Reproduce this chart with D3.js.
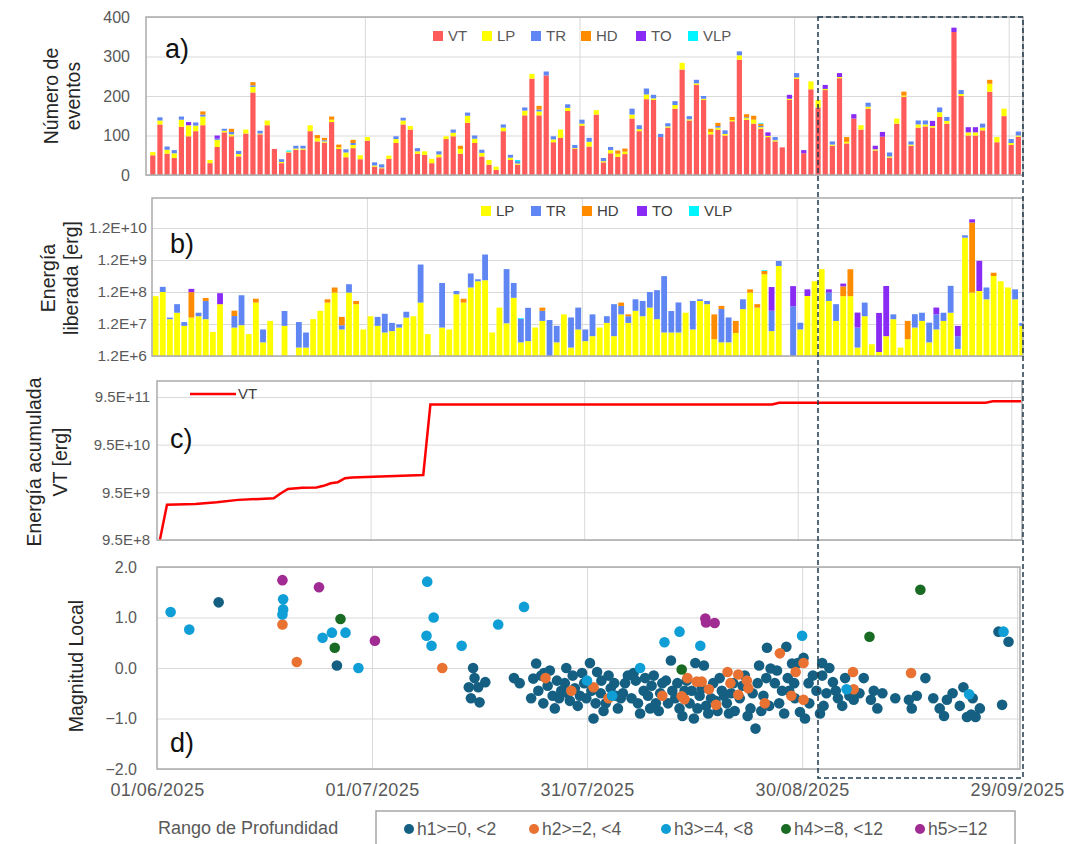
<!DOCTYPE html>
<html>
<head>
<meta charset="utf-8">
<script src="https://cdn.jsdelivr.net/npm/d3@7"></script>
<style>
  body { margin: 0; background: #fff; }
  text { font-family: "Liberation Sans", Arial, sans-serif; }
</style>
</head>
<body>
<svg id="chart" width="1070" height="844"></svg>
<script>
// day index 0 = 01/06/2025 ... 121 = 30/09/2025
var eventTypes = ["VT", "LP", "TR", "HD", "TO", "VLP"];
var typeColors = ["#FF5B5B", "#FFFF00", "#5F86F2", "#FF8C00", "#8A2BF5", "#00F5FF"];

// a) number of events per day
var countVT = [
  50,128,54,43,122,98,111,126,30,71,
  108,98,47,105,209,103,126,66,30,57,
  64,64,111,85,82,134,66,45,68,40,
  87,21,17,41,81,128,115,54,51,30,
  45,91,98,54,132,81,47,26,13,111,
  38,26,151,244,151,252,83,94,162,66,
  125,72,153,32,55,46,53,143,111,192,
  190,96,120,168,267,138,228,190,103,115,
  100,136,292,140,130,117,96,85,70,190,
  243,55,217,171,215,74,245,80,143,115,
  168,62,97,44,130,198,74,120,123,120,
  147,130,362,200,100,100,113,211,83,149,
  76,97];
var countLP = [
  8,10,10,12,18,28,14,22,8,18,
  4,5,6,10,14,2,12,0,3,2,
  3,3,15,8,3,6,4,12,8,10,
  9,3,2,8,10,10,9,6,9,11,
  7,7,9,12,18,11,9,12,8,9,
  6,3,12,12,10,0,7,21,8,2,
  5,12,11,3,8,8,6,10,5,12,
  4,0,3,9,17,3,4,3,6,5,
  4,3,11,4,10,4,3,3,0,3,
  4,0,20,19,3,3,3,4,0,11,
  5,3,0,3,13,3,3,8,5,4,
  12,7,0,5,8,8,7,20,13,19,
  5,3];
var countTR = [
  0,8,8,8,8,0,8,5,0,3,
  5,6,8,0,4,7,0,0,7,0,
  7,7,0,0,3,0,0,8,5,0,
  0,8,8,0,7,7,0,8,0,0,
  8,0,8,0,8,8,8,0,0,8,
  7,6,8,0,5,10,8,0,9,8,
  10,10,0,8,8,0,0,15,10,15,
  9,8,8,10,0,8,9,7,0,4,
  9,0,10,2,0,3,0,8,0,0,
  11,0,0,0,0,8,0,0,0,0,
  10,0,0,10,0,0,8,10,10,0,
  12,10,0,10,0,0,10,0,0,0,
  10,10];
var countHD = [
  0,0,0,0,0,0,0,8,0,0,
  0,8,0,0,8,0,0,0,0,0,
  0,0,0,8,6,8,7,0,8,0,
  0,0,0,0,0,0,0,0,0,0,
  0,0,0,8,0,0,0,0,0,0,
  0,0,0,0,9,0,0,0,0,0,
  0,0,0,0,0,8,8,0,0,0,
  0,0,0,0,0,0,0,0,8,8,
  0,8,0,8,10,6,0,0,0,0,
  0,0,0,0,0,0,0,12,0,0,
  0,0,0,0,0,10,0,0,0,0,
  0,0,0,0,0,0,0,10,0,0,
  0,0];
var countTO = [
  0,0,0,0,0,8,0,0,0,8,
  0,0,0,0,0,0,0,0,0,0,
  0,0,0,0,0,0,0,0,0,0,
  0,0,0,0,0,0,0,0,0,0,
  0,0,0,0,0,0,0,0,0,0,
  0,0,0,0,0,0,0,0,0,0,
  0,0,0,0,0,0,0,0,0,0,
  0,0,0,0,0,0,0,0,0,0,
  0,0,0,0,0,0,9,0,0,10,
  0,8,0,0,10,0,10,0,11,0,
  0,9,12,0,0,0,0,0,0,13,
  0,0,11,0,13,13,0,0,0,0,
  0,0];
var countVLP = [
  0,0,0,0,0,0,0,0,0,0,
  0,0,0,0,0,0,0,0,0,3,
  0,0,0,0,0,0,0,0,0,0,
  0,0,0,0,0,0,0,0,0,0,
  0,0,0,0,0,0,0,0,0,0,
  0,3,0,0,0,0,0,0,0,0,
  0,0,0,0,0,0,0,0,0,0,
  0,0,0,0,0,0,0,0,0,0,
  0,0,0,0,0,2,0,0,0,0,
  0,0,0,0,0,0,0,0,0,0,
  0,0,0,0,0,0,0,0,0,0,
  0,0,0,0,0,0,0,0,0,0,
  0,0];

// b) released energy per day [erg]
var energyLP = [
  8.9e7,1.2e8,1.7e7,2.7e7,1.05e7,1.9e7,2.1e7,1.7e7,6.8e6,5e7,
  0,9.3e6,1.1e7,5.8e6,5.6e7,3.2e6,1.5e7,0,1.05e7,0,
  2.2e6,2.2e6,1.7e7,3.1e7,5.6e7,1.15e8,8.1e6,1.15e8,5e7,8.1e6,
  2.1e7,1.05e7,6.5e6,7.2e6,9.3e6,1.9e7,2.1e7,5.6e7,5.8e6,0,
  9.3e6,8.1e6,1.02e8,5.6e7,1.66e8,2.6e8,2.8e8,6.5e6,3.9e7,1.26e7,
  7.9e7,3.2e6,3.5e6,9.3e6,1.5e7,0,3.2e6,2.4e7,2.2e6,8.1e6,
  3.5e6,5e6,9.3e6,1.3e7,5e6,2.4e7,1.3e7,3.1e7,2.1e7,3.9e7,
  1.7e7,6.5e6,6.5e6,6.5e6,2.7e7,8.1e6,6.3e7,5e7,4e6,3.2e6,
  3.2e6,6.3e6,3.5e7,1.15e8,3.9e7,4.3e8,7.2e6,7.8e8,0,0,
  8.1e6,9e7,2.6e8,6.2e8,6.3e7,1.5e7,8.9e7,8.9e7,2.2e6,2.1e7,
  2.8e6,1.6e6,5e6,1.7e7,2.2e6,4e6,9.3e6,1.5e7,3.2e6,8.1e6,
  1.5e7,2.7e7,2e6,6e9,1.15e8,1.29e8,7.1e7,3.8e8,2.6e8,1.66e8,
  7.1e7,1.05e7];
var energyTR = [
  0,5.4e7,2e6,2.3e7,3.3e6,0,6e6,4.6e7,0,0,
  0,1.2e7,8.4e7,0,0,4.9e6,0,0,2e7,0,
  1.16e7,4.3e6,0,0,0,0,2.9e6,9.5e7,0,0,
  0,9.5e6,1.85e7,5.8e6,2.4e6,1e7,0,8.1e8,0,0,
  2.2e8,0,2.7e7,0,2.9e8,4e7,1.5e9,0,0,6.1e8,
  1.5e8,1.4e7,3.5e7,0,1.6e7,1.6e7,7.3e6,0,1.7e7,3.1e7,
  4.6e6,1.9e7,0,8e6,4.5e7,2e7,8e6,4e7,4.2e7,8.1e7,
  1.2e8,3.7e8,2.4e7,5e7,0,5.5e7,8e6,1.3e7,0,3.2e7,
  1.6e7,0,3.6e7,0,0,0,2.4e7,3.4e8,0,4.3e7,
  5e6,0,0,0,5.2e7,3.5e7,0,0,7.1e6,3.5e7,
  0,0,0,7e6,0,0,1.5e7,1.2e7,1e7,1.6e7,
  1.2e7,1.6e8,3e6,1.1e9,0,0,9.5e7,0,0,0,
  7.4e7,2.5e6];
var energyHD = [
  0,0,0,0,0,1e8,0,1.5e7,0,0,
  0,1e7,0,0,1.8e7,0,0,0,0,0,
  0,0,0,0,1.5e7,5.1e7,9e6,0,1.3e7,0,
  0,0,0,0,0,0,0,0,0,0,
  0,0,0,1.8e7,0,0,0,0,0,0,
  0,0,0,0,8e6,0,0,0,0,0,
  0,0,0,0,0,1.2e7,3e6,0,0,0,
  0,0,0,0,0,0,0,0,2e7,9e6,
  0,8.7e6,0,3e7,1.1e7,1.2e8,0,0,0,0,
  0,0,0,0,0,0,9.1e7,5.3e8,0,0,
  0,0,0,0,0,1.1e7,0,0,0,0,
  0,0,0,0,1.77e10,0,0,1e8,0,0,
  0,0];
var energyTO = [
  0,0,0,0,0,3.1e7,0,0,0,6e7,
  0,0,0,0,0,0,0,0,0,0,
  0,0,0,0,0,0,0,0,0,0,
  0,0,0,0,0,0,0,0,0,0,
  0,0,0,0,0,0,0,0,0,0,
  0,0,0,0,0,0,0,0,0,0,
  0,0,0,0,0,0,0,0,0,0,
  0,0,0,0,0,0,0,0,0,0,
  0,0,0,0,0,0,1.4e8,0,0,1.4e8,
  0,5.5e7,0,0,3e7,0,4e7,0,1.8e7,0,
  0,2.5e7,1.8e8,0,0,0,0,0,0,1.5e7,
  0,0,5.5e6,0,4.6e9,1e9,0,0,0,0,
  0,0];
var energyVLP = [
  0,0,0,0,0,0,0,0,0,0,
  0,0,0,0,0,0,0,0,0,0,
  0,0,0,0,0,0,0,0,0,0,
  0,0,0,0,0,0,0,0,0,0,
  0,0,0,0,0,0,0,0,0,0,
  0,1e6,0,0,0,0,0,0,0,0,
  0,0,0,0,0,0,0,0,0,0,
  0,0,0,0,0,0,0,0,0,0,
  0,0,0,0,0,3e7,0,0,0,0,
  0,0,0,0,0,0,0,0,0,0,
  0,0,0,0,0,0,0,0,0,0,
  0,0,0,0,0,0,0,0,0,0,
  0,0];

// c) cumulative VT energy [erg], [day, value]
var cumVT = [
  [0,9.5e8],[1,5.2e9],[5,5.4e9],[8,5.9e9],[11,6.6e9],[14,6.9e9],[16,7.1e9],
  [17,9.1e9],[18,1.12e10],[20,1.18e10],[22,1.2e10],[23,1.3e10],[24,1.47e10],
  [25,1.55e10],[26,1.88e10],[27,1.94e10],[31,2.05e10],[37,2.2e10],[38,6.6e11],
  [86,6.6e11],[87,7.2e11],[116,7.2e11],[117,7.7e11],[121,7.7e11]];

// d) local magnitude by depth range, [day, ML]
var depthNames = ["h1>=0, <2", "h2>=2, <4", "h3>=4, <8", "h4>=8, <12", "h5>=12"];
var depthColors = ["#156082", "#E97132", "#0F9ED5", "#196B24", "#A02B93"];
var depthH1 = [
  [8.6,1.3],[25.1,0.05],
  [43.5,-0.38],[44.1,0.0],[44.8,-0.38],[45.8,-0.28],[45.0,-0.68],[44.3,-0.2],[43.8,-0.6],
  [49.8,-0.2],[50.6,-0.3],[52.9,0.09],[52.5,-0.21],[53.2,-0.45],[52.2,-0.6],
  [54.0,-0.1],[54.5,-0.35],[55.2,-0.55],[55.8,-0.25],[56.4,-0.45],[57.1,0.0],[57.6,-0.65],
  [58.3,-0.4],[59.0,-0.55],[59.6,-0.3],[60.4,0.1],[60.9,-1.0],[61.4,-0.08],[61.9,-0.5],
  [62.6,-0.7],[63.3,-0.4],[64.0,-0.55],[64.7,-0.6],[65.3,-0.3],
  [66.8,-0.25],[67.4,-0.9],[67.9,-0.45],[68.5,-0.55],[69.0,-0.35],[69.6,-0.7],[70.2,-0.5],
  [71.7,0.15],[71.0,-0.25],[72.3,-0.6],[72.9,-0.8],[73.6,-0.45],[74.3,-0.7],[74.9,-1.0],
  [75.1,0.1],[76.3,0.05],[75.7,-0.55],[76.6,-0.75],[77.3,-0.6],[78.2,-0.85],[78.8,-0.45],
  [79.5,-0.7],[80.1,-0.5],[80.6,-0.85],
  [81.7,-0.35],[82.8,-0.8],[83.5,-1.2],[84.0,0.05],[85.1,0.4],[85.6,-0.01],[84.6,-0.55],
  [86.2,-0.3],[86.8,-0.7],[87.8,0.42],[88.6,0.09],[88.2,-0.45],[89.0,-0.6],[89.7,-0.87],
  [90.2,0.2],[90.4,-1.0],[90.9,-0.3],
  [92.5,-0.9],[92.8,0.1],[92.8,-0.15],[93.4,-0.5],[94.3,-0.28],[95.0,-0.6],[95.6,-0.75],
  [97.2,-0.63],[98.6,-0.2],[99.6,-0.63],[100.5,-0.8],[101.2,-0.5],
  [104.9,-0.63],[105.3,-0.8],[107.2,-0.2],[109.2,-0.8],[110.2,-0.63],[112.5,-0.38],
  [113.0,-0.97],[113.6,-0.92],[114.2,-0.97],[113.8,-0.6],[117.4,0.72],[118.8,0.52],[117.9,-0.73],
  [53.6,-0.15],[53.9,-0.7],[54.8,-0.05],[55.5,-0.8],[56.1,-0.6],[56.9,-0.3],[57.3,-0.5],
  [58.0,-0.15],[58.7,-0.75],[59.3,-0.1],[59.9,-0.6],[60.6,-0.45],[61.2,-0.7],[62.0,-0.25],
  [62.3,-0.85],[63.0,-0.15],[63.8,-0.3],[64.3,-0.8],[65.0,-0.5],[65.7,-0.15],
  [66.2,-0.6],[66.5,-0.1],[67.1,-0.7],[68.1,-0.2],[68.8,-0.8],[69.3,-0.15],[70.0,-0.85],
  [70.5,-0.3],[71.3,-0.7],[71.9,-0.45],[72.6,-0.3],[73.3,-0.95],[73.9,-0.25],[74.6,-0.45],
  [75.4,-0.8],[76.0,-0.4],[76.9,-0.9],[77.6,-0.3],[77.9,-0.65],[78.5,-0.2],[79.1,-0.55],
  [79.8,-0.9],[80.4,-0.3],
  [81.3,-0.6],[82.0,-0.15],[82.4,-0.95],[83.1,-0.5],[83.8,-0.3],[84.3,-0.85],[85.0,-0.2],
  [85.4,-0.75],[86.5,-0.05],[87.2,-0.45],[87.5,-0.9],[88.0,-0.2],[88.9,-0.3],[89.4,0.1],
  [91.0,-0.7],[91.5,-0.15],[92.0,-0.45],[93.0,-0.75],[93.8,0.0],[94.7,-0.45],[96.0,-0.2],
  [96.6,-0.55],[98.0,-0.5],[100.0,-0.45],[103.0,-0.6],[106.0,-0.55],[108.3,-0.6],[111.0,-0.5],
  [112.0,-0.75],[114.8,-0.8],[109.8,-0.95]];
var depthH2 = [
  [17.5,0.86],[19.5,0.12],[39.8,0.0],[54.2,-0.2],[60.9,-0.38],[73.2,-0.56],[73.6,-0.62],
  [75.3,-0.27],[76.0,-0.27],[77.0,-0.42],[78.0,-0.73],[79.6,-0.08],[81.1,-0.13],[81.1,-0.53],
  [82.3,-0.25],[82.5,-0.4],[86.9,0.29],[89.1,-0.08],[90.2,0.1],[90.2,-0.63],[97.1,-0.08],
  [97.2,-0.42],[105.2,-0.1],[57.8,-0.45],[63.0,-0.6],[70.5,-0.55],[74.0,-0.2],[80.0,-0.3],
  [84.8,-0.7],[88.5,-0.55]];
var depthH3 = [
  [1.9,1.11],[4.5,0.76],[17.6,1.36],[17.6,1.16],[17.5,1.06],[23.1,0.6],[24.4,0.7],[26.3,0.7],
  [28.1,0.0],[37.7,1.71],[38.6,1.0],[37.6,0.64],[38.3,0.44],[42.5,0.44],[47.6,0.86],[51.2,1.21],
  [60.0,-0.25],[63.5,-0.55],[67.4,0.0],[70.8,0.51],[72.9,0.72],[75.8,0.44],[90.0,0.64],[96.2,-0.42],
  [113.3,-0.52],[118.1,0.72]];
var depthH4 = [[25.6,0.97],[24.8,0.40],[73.2,-0.03],[99.4,0.62],[106.5,1.55]];
var depthH5 = [[17.5,1.74],[22.6,1.6],[30.4,0.54],[76.5,0.98],[76.6,0.9],[77.8,0.89]];

var dateTicks = [0, 30, 60, 90, 120];
var dateLabels = ["01/06/2025", "01/07/2025", "31/07/2025", "30/08/2025", "29/09/2025"];

var gridColor = "#D9D9D9";
var borderColor = "#ABABAB";
var tickColor = "#595959";

var svg = d3.select("#chart");

function frame(p, x, y, yTicks, fmt, pad, size) {
  var g = svg.append("g");
  g.append("g")
    .attr("transform", `translate(0, ${p.b})`)
    .call(d3.axisBottom(x).tickValues([30, 60, 90, 120]).tickSize(-(p.b - p.t)).tickFormat(""))
    .call(s => s.select(".domain").remove())
    .call(s => s.selectAll("line").attr("stroke", gridColor));
  g.append("g")
    .attr("transform", `translate(${p.l}, 0)`)
    .call(d3.axisLeft(y).tickValues(yTicks).tickSize(-(p.r - p.l)).tickPadding(pad).tickFormat(fmt))
    .call(s => s.select(".domain").remove())
    .call(s => s.selectAll("line").attr("stroke", gridColor))
    .call(s => s.selectAll("text")
      .attr("fill", tickColor)
      .style("font-size", size + "px"));
  return g;
}

function border(p) {
  svg.append("rect")
    .attr("x", p.l).attr("y", p.t)
    .attr("width", p.r - p.l).attr("height", p.b - p.t)
    .attr("fill", "none")
    .attr("stroke", borderColor)
    .attr("stroke-width", 1.5);
}

function yTitle(lines, cx, cy, gap) {
  var t = svg.append("text")
    .attr("transform", `translate(${cx}, ${cy}) rotate(-90)`)
    .attr("text-anchor", "middle")
    .attr("fill", "#262626")
    .style("font-size", "19.5px");
  lines.forEach((s, i) => {
    t.append("tspan").attr("x", 0).attr("dy", i ? gap : 0).text(s);
  });
}

function panelLabel(s, x, y) {
  svg.append("text").attr("x", x).attr("y", y)
    .attr("fill", "#111").style("font-size", "27px").text(s);
}

// ---------- a) ----------
var pa = {l: 146, r: 1023, t: 17, b: 175};
var xA = d3.scaleLinear().domain([-0.6, 122]).range([pa.l, pa.r]);
var yA = d3.scaleLinear().domain([0, 400]).range([pa.b, pa.t]);
frame(pa, xA, yA, [0, 100, 200, 300, 400], d3.format("d"), 16, 16);

var countTable = countVT.map((v, i) => ({
  day: i, VT: v, LP: countLP[i], TR: countTR[i], HD: countHD[i], TO: countTO[i], VLP: countVLP[i]
}));
var stackA = d3.stack().keys(eventTypes)(countTable);
svg.append("g").selectAll("g")
  .data(stackA)
  .enter()
  .append("g")
    .attr("fill", (d, i) => typeColors[i])
  .selectAll("rect")
  .data(d => d.filter(s => s[1] > s[0]))
  .enter()
  .append("rect")
    .attr("x", s => xA(s.data.day + 0.35) - 2.6)
    .attr("width", 5.2)
    .attr("y", s => yA(s[1]))
    .attr("height", s => yA(s[0]) - yA(s[1]));
border(pa);

// legend a
var legA = svg.append("g").attr("transform", "translate(433, 31)");
eventTypes.forEach((k, i) => {
  var off = [0, 49, 98, 148, 203, 255][i];
  legA.append("rect").attr("x", off).attr("y", 0).attr("width", 10).attr("height", 10)
    .attr("fill", typeColors[i]);
  legA.append("text").attr("x", off + 15).attr("y", 10)
    .attr("fill", tickColor).style("font-size", "15px").text(k);
});
panelLabel("a)", 165, 58);
yTitle(["Número de", "eventos"], 58, 96, 22);

// ---------- b) ----------
var pb = {l: 152, r: 1023, t: 198, b: 356};
var xB = d3.scaleLinear().domain([0, 121.6]).range([pb.l, pb.r]);
var yB = d3.scaleLog().domain([1.2e6, 1.2e10]).range([pb.b, 228]);
frame(pb, xB, yB, [1.2e6, 1.2e7, 1.2e8, 1.2e9, 1.2e10],
  d => d.toExponential(1).replace("e+", "E+"), 5, 15.5);

svg.append("clipPath").attr("id", "clipB")
  .append("rect").attr("x", pb.l).attr("y", pb.t).attr("width", pb.r - pb.l).attr("height", pb.b - pb.t);

var energyTable = energyLP.map((v, i) => ({
  day: i, LP: v, TR: energyTR[i], HD: energyHD[i], TO: energyTO[i], VLP: energyVLP[i]
}));
var stackB = d3.stack().keys(eventTypes.slice(1))(energyTable);
var minE = yB.domain()[0];
svg.append("g").attr("clip-path", "url(#clipB)")
  .selectAll("g")
  .data(stackB)
  .enter()
  .append("g")
    .attr("fill", (d, i) => typeColors[i + 1])
  .selectAll("rect")
  .data(d => d.filter(s => s[1] > s[0] && s[1] > minE))
  .enter()
  .append("rect")
    .attr("x", s => xB(s.data.day + 0.5) - 2.9)
    .attr("width", 5.8)
    .attr("y", s => yB(s[1]))
    .attr("height", s => yB(Math.max(s[0], minE)) - yB(s[1]));
border(pb);

var legB = svg.append("g").attr("transform", "translate(481, 206)");
eventTypes.slice(1).forEach((k, i) => {
  var off = [0, 50, 101, 156, 208][i];
  legB.append("rect").attr("x", off).attr("y", 0).attr("width", 10).attr("height", 10)
    .attr("fill", typeColors[i + 1]);
  legB.append("text").attr("x", off + 15).attr("y", 10)
    .attr("fill", "#404040").style("font-size", "15px").text(k);
});
panelLabel("b)", 170, 253);
yTitle(["Energía", "liberada [erg]"], 55, 278, 23);

// ---------- c) ----------
var pc = {l: 157, r: 1022, t: 381, b: 540};
var xC = d3.scaleLinear().domain([0, 121.5]).range([pc.l, pc.r]);
var yC = d3.scaleLog().domain([9.5e8, 9.5e11]).range([pc.b, 397]);
frame(pc, xC, yC, [9.5e8, 9.5e9, 9.5e10, 9.5e11],
  d => d.toExponential(1).replace("e+", "E+"), 7, 15);

svg.append("clipPath").attr("id", "clipC")
  .append("rect").attr("x", pc.l).attr("y", pc.t).attr("width", pc.r - pc.l).attr("height", pc.b - pc.t + 2);

svg.append("path")
  .datum(cumVT)
  .attr("clip-path", "url(#clipC)")
  .attr("fill", "none")
  .attr("stroke", "#FF0000")
  .attr("stroke-width", 2.5)
  .attr("d", d3.line().x(d => xC(d[0] + 0.4)).y(d => yC(d[1])));
border(pc);

svg.append("line").attr("x1", 190).attr("x2", 236).attr("y1", 394).attr("y2", 394)
  .attr("stroke", "#FF0000").attr("stroke-width", 2.5);
svg.append("text").attr("x", 238).attr("y", 399)
  .attr("fill", "#404040").style("font-size", "15px").text("VT");
panelLabel("c)", 170, 448);
yTitle(["Energía acumulada", "VT [erg]"], 41, 462, 26);

// ---------- d) ----------
var pd = {l: 157, r: 1020, t: 567, b: 769};
var xD = d3.scaleLinear().domain([0, 120.4]).range([pd.l, pd.r]);
var yD = d3.scaleLinear().domain([-2, 2]).range([pd.b, pd.t]);
frame(pd, xD, yD, [-2, -1, 0, 1, 2], d3.format(".1f"), 20, 16);

var depthSets = [depthH1, depthH2, depthH3, depthH4, depthH5];
depthSets.forEach((set, k) => {
  svg.append("g")
    .selectAll("circle")
    .data(set)
    .enter()
    .append("circle")
      .attr("cx", d => xD(d[0]))
      .attr("cy", d => yD(d[1]))
      .attr("r", 5.3)
      .attr("fill", depthColors[k]);
});
border(pd);

svg.append("g")
  .attr("transform", `translate(0, ${pd.b})`)
  .call(d3.axisBottom(xD).tickValues(dateTicks).tickSize(0).tickPadding(14)
    .tickFormat((d, i) => dateLabels[i]))
  .call(s => s.select(".domain").remove())
  .call(s => s.selectAll("text")
    .attr("fill", tickColor)
    .style("font-size", "18px")
    .style("letter-spacing", "0.4px"));

panelLabel("d)", 170, 752);
yTitle(["Magnitud Local"], 83, 666, 0);

// depth legend
svg.append("text").attr("x", 158).attr("y", 834)
  .attr("fill", tickColor).style("font-size", "18px").text("Rango de Profundidad");
svg.append("rect").attr("x", 376).attr("y", 811).attr("width", 639).attr("height", 40)
  .attr("fill", "none").attr("stroke", "#A6A6A6").attr("stroke-width", 1.5);
var legD = svg.append("g");
depthNames.forEach((n, i) => {
  var cx = [409, 534, 666, 786, 920][i];
  legD.append("circle").attr("cx", cx).attr("cy", 829).attr("r", 5).attr("fill", depthColors[i]);
  legD.append("text").attr("x", cx + 8).attr("y", 835)
    .attr("fill", tickColor).style("font-size", "17.5px").text(n);
});

// highlighted window
svg.append("rect")
  .attr("x", 818).attr("y", 17)
  .attr("width", 205).attr("height", 761)
  .attr("fill", "none")
  .attr("stroke", "#1F3B4D")
  .attr("stroke-width", 1.5)
  .attr("stroke-dasharray", "5,3");
</script>
</body>
</html>
